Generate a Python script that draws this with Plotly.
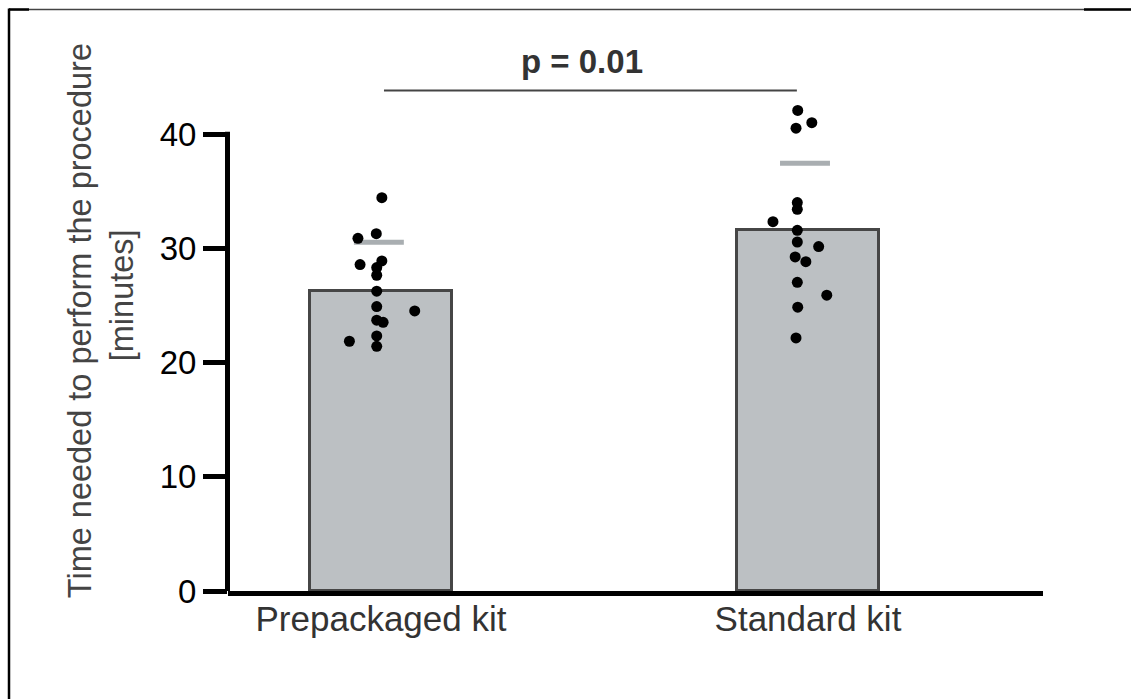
import plotly.graph_objects as go

categories = ["Prepackaged kit", "Standard kit"]
bar_values = [26.27, 31.58]
upper_values = [30.53, 37.45]
p_label = "p = 0.01"
y_ticks = [0, 10, 20, 30, 40]

prepackaged_points = [34.44, 30.88, 31.29, 28.58, 28.90, 28.32, 27.65, 26.25,
                      24.91, 24.52, 23.71, 23.53, 21.87, 22.34, 21.43]
prepackaged_jitter = [0.002, -0.054, -0.011, -0.049, 0.002, -0.010, -0.010, -0.010,
                      -0.010, 0.079, -0.010, 0.005, -0.074, -0.010, -0.010]
standard_points = [42.08, 41.01, 40.53, 34.01, 33.42, 32.34, 31.58, 30.56,
                   30.16, 29.25, 28.84, 27.03, 25.90, 24.85, 22.16]
standard_jitter = [-0.024, 0.009, -0.028, -0.025, -0.025, -0.082, -0.025, -0.025,
                   0.025, -0.030, -0.005, -0.025, 0.044, -0.024, -0.028]

FONT = "Liberation Sans, Arial, sans-serif"
xpos = [0, 1]

# plot-area geometry in pixels
L, R, B, T = 228, 1043, 591, 19.5
W, H = R - L, B - T


def px_x(X):
    return (X - L) / W


def px_y(Y):
    return (B - Y) / H


fig = go.Figure()
fig.add_trace(go.Bar(
    x=xpos, y=bar_values, width=0.3326,
    marker=dict(color="#bcc0c3", line=dict(color="#464646", width=3)),
    showlegend=False, hoverinfo="skip",
))

line_centers = [-0.005, 0.993]
for c, v in zip(line_centers, upper_values):
    fig.add_trace(go.Scatter(
        x=[c - 0.0585, c + 0.0585], y=[v, v], mode="lines",
        line=dict(color="#a9aeb1", width=5), showlegend=False,
        hoverinfo="skip",
    ))

fig.add_trace(go.Scatter(
    x=[xpos[0] + j for j in prepackaged_jitter], y=prepackaged_points,
    mode="markers", marker=dict(color="black", size=11),
    showlegend=False,
))
fig.add_trace(go.Scatter(
    x=[xpos[1] + j for j in standard_jitter], y=standard_points,
    mode="markers", marker=dict(color="black", size=11),
    showlegend=False,
))

# significance line
fig.add_trace(go.Scatter(
    x=[0.007, 0.974], y=[43.83, 43.83], mode="lines",
    line=dict(color="#444444", width=2), showlegend=False,
    hoverinfo="skip",
))
fig.add_annotation(
    x=0.47, y=46.4, xref="x", yref="y", text="<b>" + p_label + "</b>", showarrow=False,
    font=dict(family=FONT, size=33, color="#333333"), yanchor="middle",
)
fig.add_annotation(
    x=px_x(80), y=px_y(321), xref="paper", yref="paper",
    text="Time needed to perform the procedure", textangle=-90, showarrow=False,
    font=dict(family=FONT, size=32.5, color="#444444"),
    xanchor="center", yanchor="middle",
)
fig.add_annotation(
    x=px_x(122), y=px_y(295), xref="paper", yref="paper",
    text="[minutes]", textangle=-90, showarrow=False,
    font=dict(family=FONT, size=32.5, color="#444444"),
    xanchor="center", yanchor="middle",
)

shapes = [
    # y axis line, from 0 to the top tick
    dict(type="line", xref="paper", yref="y", x0=px_x(227.5), x1=px_x(227.5),
         y0=0, y1=40.22, line=dict(color="black", width=5)),
    # outer frame
    dict(type="line", xref="paper", yref="paper", x0=px_x(9), x1=px_x(1131),
         y0=px_y(9), y1=px_y(9), line=dict(color="#444444", width=1.5)),
    dict(type="line", xref="paper", yref="paper", x0=px_x(9), x1=px_x(29),
         y0=px_y(9), y1=px_y(9), line=dict(color="black", width=2.5)),
    dict(type="line", xref="paper", yref="paper", x0=px_x(1084), x1=px_x(1131),
         y0=px_y(9), y1=px_y(9), line=dict(color="black", width=2.5)),
    dict(type="line", xref="paper", yref="paper", x0=px_x(9), x1=px_x(9),
         y0=px_y(8), y1=px_y(700), line=dict(color="black", width=2.5)),
]

fig.update_layout(
    width=1131, height=699,
    margin=dict(l=L, r=1131 - R, t=T, b=699 - B),
    paper_bgcolor="white", plot_bgcolor="white",
    font=dict(family=FONT),
    shapes=shapes,
    bargap=0,
    xaxis=dict(
        range=[-0.3583, 1.5504], tickvals=xpos, ticktext=categories,
        showgrid=False, zeroline=False, showline=True, linecolor="black",
        linewidth=5, ticks="", ticklen=0, ticklabelstandoff=-7,
        tickfont=dict(family=FONT, size=35, color="#333333"),
    ),
    yaxis=dict(
        range=[0, 50], tickvals=y_ticks, showgrid=False, zeroline=False,
        showline=False, ticks="outside",
        ticklen=24, tickwidth=5, tickcolor="black",
        tickfont=dict(family=FONT, size=33, color="black"),
    ),
)

fig.write_html("out.html")
